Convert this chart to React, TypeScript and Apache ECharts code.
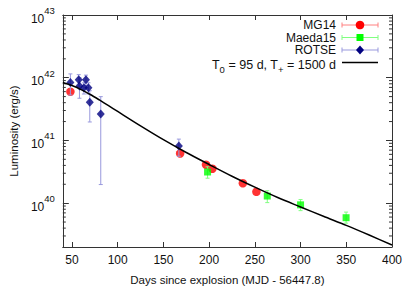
import React, { useEffect, useRef } from 'react';
import * as echarts from 'echarts';

// ---- data ----
const mg14Days = [48.3, 168.3, 196.6, 203.6, 236.9, 251.7];
const mg14Lum = [5.98e41, 6.2e40, 4.1e40, 3.54e40, 2.08e40, 1.52e40];

const maedaDays = [198.3, 263.6, 300.0, 349.8];
const maedaLum = [3.14e40, 1.3e40, 9.4e39, 5.86e39];
const maedaLow = [2.5e40, 1.02e40, 7.6e39, 4.8e39];
const maedaHigh = [3.8e40, 1.58e40, 1.14e40, 7.2e39];

const rotseDays = [48.3, 57.4, 58.2, 63.1, 65.3, 68.0, 69.5, 81.5, 166.9];
const rotseLum = [8.4e41, 9.25e41, 7.4e41, 6.9e41, 9.25e41, 6.9e41, 4.07e41, 2.64e41, 8.15e40];
const rotseLow = [5.3e41, 7.3e41, 4.71e41, 5.5e41, 7.5e41, 5.5e41, 1.97e41, 1.98e40, 5.6e40];
const rotseHigh = [1.15e42, 1.12e42, 1.0e42, 8.3e41, 1.1e42, 8.3e41, 6.2e41, 4.99e41, 1.05e41];

const modelDays = [40, 50, 60, 70, 80, 90, 100, 125, 150, 175, 200, 225, 250, 275, 300, 325, 350, 375, 400];
const modelLum = [
  8.4e41, 7.5e41, 6.46e41, 5.4e41, 4.42e41, 3.59e41, 2.9e41, 1.71e41, 1.03e41, 6.43e40,
  4.14e40, 2.69e40, 1.8e40, 1.23e40, 8.7e39, 6.17e39, 4.42e39, 3.1e39, 2.15e39,
];

const xMin = 40;
const xMax = 400;
const yMin = 2e39;
const yMax = 1e43;
const yDecades = [39, 40, 41, 42];

const legendLabels = ['MG14', 'Maeda15', 'ROTSE'];
const modelLabelRich = '{n|T}{sub|0}{n| = 95 d, T}{sub|+}{n| = 1500 d}';

const FONT = '"Liberation Sans", Arial, Helvetica, sans-serif';
const FRAME = '#333';
const TXT = '#111';

function errorBars(days: number[], low: number[], high: number[], color: string, cap: number, z: number) {
  return {
    type: 'custom',
    silent: true,
    z,
    data: days.map((d, i) => [d, low[i], high[i]]),
    encode: { x: 0, y: [1, 2] },
    renderItem: (params: any, api: any) => {
      const x = api.value(0);
      const p1 = api.coord([x, api.value(1)]);
      const p2 = api.coord([x, api.value(2)]);
      const style = { stroke: color, lineWidth: 1 };
      return {
        type: 'group',
        children: [
          { type: 'line', shape: { x1: p1[0], y1: p1[1], x2: p2[0], y2: p2[1] }, style },
          { type: 'line', shape: { x1: p1[0] - cap, y1: p1[1], x2: p1[0] + cap, y2: p1[1] }, style },
          { type: 'line', shape: { x1: p2[0] - cap, y1: p2[1], x2: p2[0] + cap, y2: p2[1] }, style },
        ],
      };
    },
  };
}

export default function App() {
  const ref = useRef<HTMLDivElement>(null);
  useEffect(() => {
    if (!ref.current) return;
    const chart = echarts.init(ref.current, null, { renderer: 'svg' });

    const minorTicks: number[] = [];
    yDecades.forEach((e) => {
      for (let m = 2; m <= 9; m++) {
        const v = m * Math.pow(10, e);
        if (v > yMin * 1.0001 && v < yMax) minorTicks.push(v);
      }
    });

    const yLabel = (v: number) => {
      const l = Math.log10(v);
      const e = Math.round(l);
      return Math.abs(l - e) < 1e-6 ? `{b|10}{s|${e}}` : '';
    };

    const legendRowY = [25, 37.5, 50, 62.5];
    const lx1 = 342, lx2 = 378, lxs = 360, ltx = 336;
    const legendColors = ['#ff8080', '#80ff80', '#9999dd'];
    const legendGraphics: any[] = [];
    legendLabels.forEach((t, i) => {
      const y = legendRowY[i];
      legendGraphics.push({
        type: 'text', x: ltx, y,
        style: { text: t, textAlign: 'right', textVerticalAlign: 'middle', fontSize: 12, fontFamily: FONT, fill: TXT },
      });
      const st = { stroke: legendColors[i], lineWidth: 1 };
      legendGraphics.push({ type: 'line', shape: { x1: lx1, y1: y, x2: lx2, y2: y }, style: st });
      legendGraphics.push({ type: 'line', shape: { x1: lx1, y1: y - 2.5, x2: lx1, y2: y + 2.5 }, style: st });
      legendGraphics.push({ type: 'line', shape: { x1: lx2, y1: y - 2.5, x2: lx2, y2: y + 2.5 }, style: st });
    });
    legendGraphics.push({ type: 'circle', shape: { cx: lxs, cy: legendRowY[0], r: 4.3 }, style: { fill: '#ff0000' } });
    legendGraphics.push({ type: 'rect', shape: { x: lxs - 3.5, y: legendRowY[1] - 3.5, width: 7, height: 7 }, style: { fill: '#00ff00' } });
    legendGraphics.push({
      type: 'polygon',
      shape: { points: [[lxs, legendRowY[2] - 4.5], [lxs + 4, legendRowY[2]], [lxs, legendRowY[2] + 4.5], [lxs - 4, legendRowY[2]]] },
      style: { fill: '#000080' },
    });
    legendGraphics.push({
      type: 'text', x: ltx, y: legendRowY[3] + 2,
      style: {
        text: modelLabelRich, textAlign: 'right', textVerticalAlign: 'middle', fontFamily: FONT, fill: TXT,
        rich: {
          n: { fontSize: 12.5, fontFamily: FONT, fill: TXT, lineHeight: 12, verticalAlign: 'top' },
          sub: { fontSize: 9.5, fontFamily: FONT, fill: TXT, lineHeight: 8, padding: [6, 0, 0, 0], verticalAlign: 'top' },
        },
      },
    });
    legendGraphics.push({ type: 'line', shape: { x1: lx1, y1: legendRowY[3], x2: lx2, y2: legendRowY[3] }, style: { stroke: '#000', lineWidth: 1.5 } });

    const xCommon = {
      type: 'value', min: xMin, max: xMax, splitNumber: 7, minInterval: 50, maxInterval: 50,
      splitLine: { show: false },
      axisLine: { show: true, onZero: false, lineStyle: { color: FRAME, width: 1 } },
      axisTick: { show: true, inside: true, length: 5, lineStyle: { color: FRAME } },
    };
    const yCommon = {
      type: 'log', logBase: 10, min: yMin, max: yMax,
      splitLine: { show: false },
      axisLine: { show: true, onZero: false, lineStyle: { color: FRAME, width: 1 } },
      axisTick: { show: true, inside: true, length: 6, lineStyle: { color: FRAME } },
    };

    chart.setOption({
      animation: false,
      textStyle: { fontFamily: FONT },
      grid: { left: 53, right: 23, top: 15, bottom: 41, containLabel: false },
      xAxis: [
        {
          ...xCommon, position: 'bottom',
          name: 'Days since explosion (MJD - 56447.8)', nameLocation: 'middle', nameGap: 27,
          nameTextStyle: { fontSize: 11.5, color: TXT, fontFamily: FONT },
          axisLabel: { show: true, showMinLabel: false, margin: 7, fontSize: 12, color: TXT, fontFamily: FONT },
        },
        { ...xCommon, position: 'top', axisLabel: { show: false } },
      ],
      yAxis: [
        {
          ...yCommon, position: 'left',
          name: 'Luminosity (erg/s)', nameLocation: 'middle', nameGap: 37, nameRotate: 90,
          nameTextStyle: { fontSize: 11.5, color: TXT, fontFamily: FONT },
          axisLabel: {
            show: true, margin: 8, formatter: yLabel,
            rich: {
              b: { fontSize: 12, color: TXT, fontFamily: FONT, lineHeight: 19, verticalAlign: 'bottom' },
              s: { fontSize: 9.5, color: TXT, fontFamily: FONT, lineHeight: 10, verticalAlign: 'top' },
            },
          },
        },
        { ...yCommon, position: 'right', axisLabel: { show: false } },
      ],
      series: [
        {
          type: 'custom', silent: true, z: 1,
          data: minorTicks.map((v) => [xMin, v]),
          encode: { x: 0, y: 1 },
          renderItem: (params: any, api: any) => {
            const cs = params.coordSys;
            const p = api.coord([api.value(0), api.value(1)]);
            const st = { stroke: FRAME, lineWidth: 1 };
            return {
              type: 'group',
              children: [
                { type: 'line', shape: { x1: cs.x, y1: p[1], x2: cs.x + 3, y2: p[1] }, style: st },
                { type: 'line', shape: { x1: cs.x + cs.width - 3, y1: p[1], x2: cs.x + cs.width, y2: p[1] }, style: st },
              ],
            };
          },
        },
        {
          name: 'MG14', type: 'scatter', z: 3, symbol: 'circle', symbolSize: 8.5,
          itemStyle: { color: '#ff0000' },
          data: mg14Days.map((d, i) => [d, mg14Lum[i]]),
        },
        errorBars(maedaDays, maedaLow, maedaHigh, '#80ff80', 2, 4),
        {
          name: 'Maeda15', type: 'scatter', z: 5, symbol: 'rect', symbolSize: 7,
          itemStyle: { color: '#00ff00' },
          data: maedaDays.map((d, i) => [d, maedaLum[i]]),
        },
        errorBars(rotseDays, rotseLow, rotseHigh, '#9999dd', 2, 6),
        {
          name: 'ROTSE', type: 'scatter', z: 7, symbol: 'diamond', symbolSize: [8, 9],
          itemStyle: { color: '#000080' },
          data: rotseDays.map((d, i) => [d, rotseLum[i]]),
        },
        {
          name: 'Model', type: 'line', z: 8, showSymbol: false, symbol: 'none', smooth: 0.3,
          lineStyle: { color: '#000', width: 1.5 },
          data: modelDays.map((d, i) => [d, modelLum[i]]),
        },
      ],
      graphic: legendGraphics,
    });
    return () => chart.dispose();
  }, []);
  return <div ref={ref} style={{ position: 'absolute', left: 0, top: 0, width: 415, height: 291 }} />;
}
